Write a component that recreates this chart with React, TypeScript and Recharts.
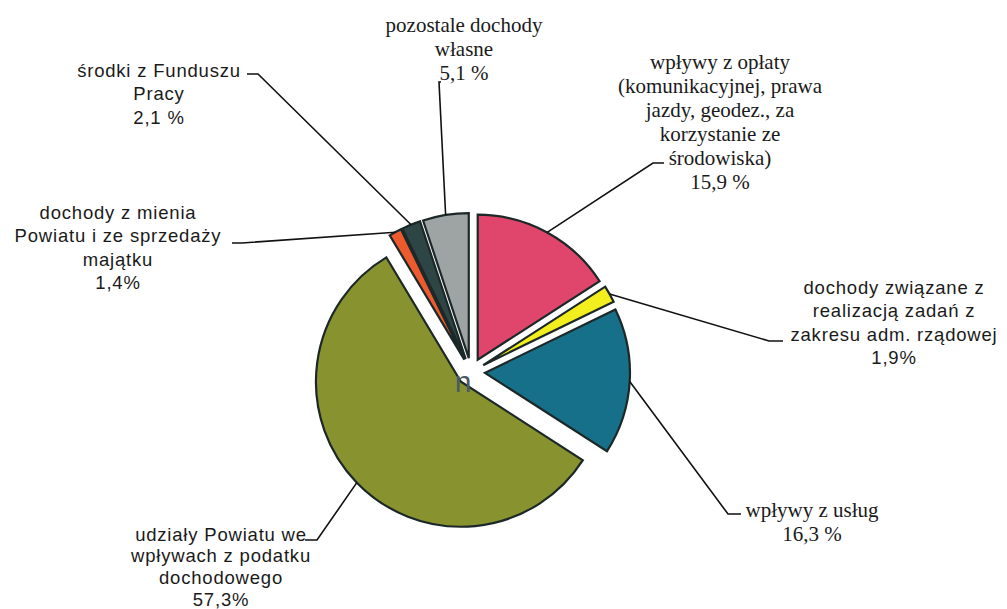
import { PieChart, Pie, Cell } from 'recharts'

document.body.style.margin = '0'

// shares of county revenue, clockwise from 12 o'clock
const categories = [
  'wpływy z opłaty (komunikacyjnej, prawa jazdy, geodez., za korzystanie ze środowiska)',
  'dochody związane z realizacją zadań z zakresu adm. rządowej',
  'wpływy z usług',
  'udziały Powiatu we wpływach z podatku dochodowego',
  'dochody z mienia Powiatu i ze sprzedaży majątku',
  'środki z Funduszu Pracy',
  'pozostale dochody własne',
]
const shares = [15.9, 1.9, 16.3, 57.3, 1.4, 2.1, 5.1]
const shareLabels = ['15,9 %', '1,9%', '16,3 %', '57,3%', '1,4%', '2,1 %', '5,1 %']
const labelLines = [
  ['wpływy z opłaty', '(komunikacyjnej, prawa', 'jazdy, geodez., za', 'korzystanie ze', 'środowiska)'],
  ['dochody związane z', 'realizacją zadań z', 'zakresu adm. rządowej'],
  ['wpływy z usług'],
  ['udziały Powiatu we', 'wpływach z podatku', 'dochodowego'],
  ['dochody z mienia', 'Powiatu i ze sprzedaży', 'majątku'],
  ['środki z Funduszu', 'Pracy'],
  ['pozostale dochody', 'własne'],
]

const COLORS = ['#e0466c', '#f3ee1e', '#16708a', '#88932f', '#ec5a2d', '#2d4645', '#9ea3a3']

const SERIF = { fontFamily: 'Liberation Serif', fontSize: 21, step: 24, spacing: 0 }
const SANS = { fontFamily: 'Liberation Sans', fontSize: 18.5, step: 23.5, spacing: 0.8 }

// text centre + first line y, leader elbow, leader end (near the text)
const LAYOUT = [
  { x: 720, y: 62, font: SERIF, elbow: [653, 163], end: [664, 163] },
  { x: 894, y: 287, font: SANS, elbow: [769, 341], end: [783, 341] },
  { x: 812, y: 510, font: SERIF, elbow: [728, 514], end: [741, 514] },
  { x: 221, y: 534, font: { ...SANS, step: 21.7 }, elbow: [317, 540], end: [305, 540] },
  { x: 118, y: 212, font: SANS, elbow: [242, 243], end: [232, 243] },
  { x: 159, y: 70, font: SANS, elbow: [258, 74], end: [247, 74] },
  { x: 464, y: 25, font: SERIF, elbow: [439, 82], end: [441, 82] },
]

const CX = 466
const CY = 367
const R = 145
const EXPLODE = 14

const data = categories.map((name, i) => ({ name, value: shares[i] }))
const total = shares.reduce((s, v) => s + v, 0)

function midAngleOf(i: number) {
  const before = shares.slice(0, i).reduce((s, v) => s + v, 0)
  return 90 - (360 * (before + shares[i] / 2)) / total
}

function makeLabel(k: number) {
  return (props: any) => {
    if (props.index !== k) return null
    const rad = (Math.PI / 180) * props.midAngle
    const sx = props.cx + props.outerRadius * Math.cos(rad)
    const sy = props.cy - props.outerRadius * Math.sin(rad)
    const L = LAYOUT[k]
    const lines = [...labelLines[k], shareLabels[k]]
    return (
      <g key={`lbl-${k}`}>
        <polyline
          points={`${sx},${sy} ${L.elbow[0]},${L.elbow[1]} ${L.end[0]},${L.end[1]}`}
          fill="none"
          stroke="#111"
          strokeWidth={1.6}
        />
        <text
          textAnchor="middle"
          fontFamily={L.font.fontFamily}
          fontSize={L.font.fontSize}
          letterSpacing={L.font.spacing}
          fill="#1a1a1a"
        >
          {lines.map((t, j) => (
            <tspan key={j} x={L.x} y={L.y + j * L.font.step} dominantBaseline="central">
              {t}
            </tspan>
          ))}
        </text>
      </g>
    )
  }
}

export default function App() {
  return (
    <div style={{ position: 'relative', width: 1007, height: 609, background: '#fff' }}>
      <PieChart width={1007} height={609}>
        {data.map((_, k) => {
          const rad = (Math.PI / 180) * midAngleOf(k)
          return (
            <Pie
              key={k}
              data={data}
              dataKey="value"
              nameKey="name"
              cx={CX + EXPLODE * Math.cos(rad)}
              cy={CY - EXPLODE * Math.sin(rad)}
              outerRadius={R}
              startAngle={90}
              endAngle={-270}
              label={makeLabel(k)}
              labelLine={false}
              isAnimationActive={false}
            >
              {data.map((_, i) => (
                <Cell
                  key={i}
                  fill={i === k ? COLORS[i] : 'transparent'}
                  stroke={i === k ? '#1c2828' : 'none'}
                  strokeWidth={2.2}
                />
              ))}
            </Pie>
          )
        })}
      </PieChart>
      {/* stray glyph left in the middle of the original chart */}
      <svg width={1007} height={609} style={{ position: 'absolute', left: 0, top: 0, pointerEvents: 'none' }}>
        <text x={463} y={381} textAnchor="middle" dominantBaseline="central" fontFamily="Liberation Sans" fontSize={30} fill="#4b5a63">
          n
        </text>
      </svg>
    </div>
  )
}
